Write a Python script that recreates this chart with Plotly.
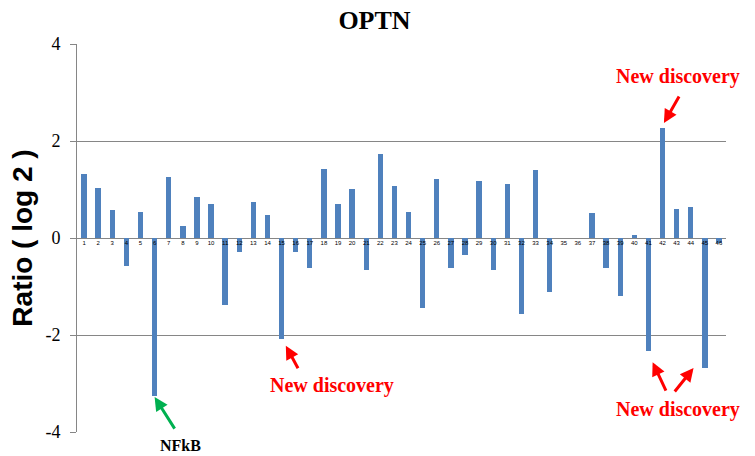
import plotly.graph_objects as go

categories = [str(i) for i in range(1, 47)]
ratios = [1.33, 1.04, 0.58, -0.57, 0.53, -3.25, 1.26, 0.24, 0.85, 0.71,
          -1.39, -0.28, 0.75, 0.48, -2.08, -0.29, -0.61, 1.43, 0.71, 1.02,
          -0.65, 1.74, 1.08, 0.53, -1.44, 1.22, -0.61, -0.36, 1.18, -0.65,
          1.12, -1.56, 1.40, -1.11, 0.0, 0.0, 0.52, -0.61, -1.19, 0.07,
          -2.34, 2.27, 0.60, 0.63, -2.67, -0.11]
ytick_vals = [-4, -2, 0, 2, 4]
ytick_text = ["-4", "-2", "0", "2", "4"]

x_pos = list(range(1, len(categories) + 1))

GRAY = "#868686"
BAR = "#4F81BD"
RED = "#FF0000"
GREEN = "#00B050"
SERIF = "Liberation Serif, Times New Roman, serif"

fig = go.Figure()
fig.add_trace(go.Bar(x=x_pos, y=ratios, marker=dict(color=BAR, line=dict(width=0)),
                     width=0.38, showlegend=False, hoverinfo="skip"))
# invisible trace on an overlaid axis so the category labels sit above the bars
fig.add_trace(go.Scatter(x=x_pos, y=[0] * len(x_pos), xaxis="x2", yaxis="y",
                         mode="markers", marker=dict(opacity=0), showlegend=False,
                         hoverinfo="skip"))

fig.update_layout(
    width=755, height=456,
    margin=dict(l=77, r=29, t=44, b=24, autoexpand=False),
    paper_bgcolor="white", plot_bgcolor="white",
    title=dict(text="<b>OPTN</b>", x=374.5 / 755, xanchor="center",
               y=1 - 20 / 456, yanchor="middle", xref="container", yref="container",
               font=dict(family=SERIF, size=26, color="black")),
    bargap=0,
    xaxis=dict(range=[0.5, 46.5], showticklabels=False, showgrid=False, showline=False,
               zeroline=False, ticks="", automargin=False),
    xaxis2=dict(range=[0.5, 46.5], tickvals=x_pos, ticktext=categories, overlaying="x",
                side="bottom", showgrid=False, showline=False, zeroline=False, ticks="",
                anchor="free", position=0.5, automargin=False, layer="above traces",
                tickangle=0,
                tickfont=dict(family="Liberation Sans, Arial", size=6, color="black")),
)
fig.update_yaxes(range=[-4, 4], tickvals=ytick_vals, ticktext=ytick_text,
                 showgrid=True, gridcolor=GRAY, gridwidth=1,
                 zeroline=True, zerolinecolor=GRAY, zerolinewidth=1,
                 showline=True, linecolor=GRAY, linewidth=1, automargin=False,
                 ticks="outside", ticklen=6, tickcolor=GRAY, ticklabelstandoff=6,
                 tickfont=dict(family=SERIF, size=18, color="black"),
                 title=dict(text="<b>Ratio ( log 2 )</b>", standoff=4,
                            font=dict(family="Liberation Sans, Arial", size=28, color="black")))

def arrow(x, y, ax, ay, color):
    fig.add_annotation(x=x, y=y, xref="x", yref="y", text="", showarrow=True,
                       ax=ax, ay=ay, axref="pixel", ayref="pixel",
                       arrowhead=2, arrowsize=0.9, arrowwidth=3, arrowcolor=color,
                       standoff=0, startstandoff=0)

def label(x, y, text, color, size, yref="y"):
    fig.add_annotation(x=x, y=y, xref="x", yref=yref, text="<b>%s</b>" % text,
                       showarrow=False, xanchor="center", yanchor="middle",
                       font=dict(family=SERIF, size=size, color=color))

# NFkB (bar 6)
arrow(6.0, -3.28, 21, 33, GREEN)
label(7.85, -0.036, "NFkB", "black", 16, yref="paper")
# bar 15
arrow(15.3, -2.22, 13, 24, RED)
label(18.6, -3.05, "New discovery", RED, 20)
# bar 42
arrow(42.1, 2.37, 16, -28, RED)
label(43.1, 3.32, "New discovery", RED, 20)
# bars 41 and 45
arrow(41.3, -2.56, 14, 30, RED)
arrow(44.2, -2.68, -20, 25, RED)
label(43.1, -3.53, "New discovery", RED, 20)

fig.write_html("out.html", config={"displayModeBar": False})

# remove the browser's default 8px body margin so the figure sits at the page origin
with open("out.html", encoding="utf-8") as f:
    html = f.read()
html = html.replace("<head>", "<head><style>html,body{margin:0;padding:0;}</style>", 1)
with open("out.html", "w", encoding="utf-8") as f:
    f.write(html)
